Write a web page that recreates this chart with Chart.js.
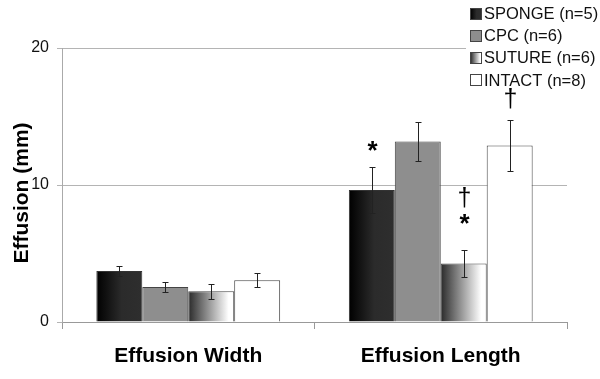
<!DOCTYPE html>
<html>
<head>
<meta charset="utf-8">
<script src="https://cdn.jsdelivr.net/npm/chart.js@4/dist/chart.umd.min.js"></script>
<style>
html,body{margin:0;padding:0;background:#fff;}
#wrap{width:600px;height:379px;position:relative;}
</style>
</head>
<body>
<div id="wrap"><canvas id="c" width="600" height="379"></canvas></div>
<script>
// ---- data ----
const categories = ["Effusion Width", "Effusion Length"];
const seriesNames = ["SPONGE (n=5)", "CPC (n=6)", "SUTURE (n=6)", "INTACT (n=8)"];
const spongeMean = [3.73, 9.63];
const spongeErr  = [0.34, 1.65];
const cpcMean    = [2.56, 13.17];
const cpcErr     = [0.34, 1.42];
const sutureMean = [2.24, 4.27];
const sutureErr  = [0.55, 0.96];
const intactMean = [3.05, 12.88];
const intactErr  = [0.50, 1.83];
const spongeMarks = [[], ["*"]];
const cpcMarks    = [[], []];
const sutureMarks = [[], ["*", "†"]];
const intactMarks = [[], ["†"]];
const yTicks = [0, 10, 20];

const FONT = "'Liberation Sans', Arial, sans-serif";

// styling
const fills = [
  {type: "grad", stops: [[0, "#000"], [0.55, "#2b2b2b"], [1, "#2e2e2e"]], border: "#333"},
  {type: "flat", color: "#8e8e8e", border: "#444"},
  {type: "grad", stops: [[0, "#2a2a2a"], [0.88, "#ffffff"], [1, "#ffffff"]], border: "#444"},
  {type: "flat", color: "#ffffff", border: "#444"}
];
// gap (px) between error-bar top and the first mark, per "dataset-index"
const markGap = {"0-1": 18, "2-1": 28, "3-1": 9};

function makeFill(ctx, f, x0, x1) {
  if (f.type === "flat") return f.color;
  const g = ctx.createLinearGradient(x0, 0, x1, 0);
  f.stops.forEach(s => g.addColorStop(s[0], s[1]));
  return g;
}

const means = [spongeMean, cpcMean, sutureMean, intactMean];
const errs = [spongeErr, cpcErr, sutureErr, intactErr];
const marks = [spongeMarks, cpcMarks, sutureMarks, intactMarks];

const datasets = means.map((m, i) => ({
  label: seriesNames[i],
  data: m,
  errors: errs[i],
  marks: marks[i],
  backgroundColor: () => fills[i].type === "flat" ? fills[i].color : "#555",
  borderColor: fills[i].border,
  borderWidth: 1,
  borderSkipped: "bottom",
  categoryPercentage: 0.728,
  barPercentage: 1.0
}));

const gradientPlugin = {
  id: "gradFill",
  beforeDatasetsDraw(chart) {
    const ctx = chart.ctx;
    chart.data.datasets.forEach((ds, di) => {
      const meta = chart.getDatasetMeta(di);
      meta.data.forEach(el => {
        const x0 = el.x - el.width / 2, x1 = el.x + el.width / 2;
        el.options = Object.assign({}, el.options, {backgroundColor: makeFill(ctx, fills[di], x0, x1)});
      });
    });
  }
};

const errorPlugin = {
  id: "errBars",
  afterDatasetsDraw(chart) {
    const ctx = chart.ctx;
    const y = chart.scales.y;
    ctx.save();
    ctx.strokeStyle = "#222";
    ctx.lineWidth = 1;
    chart.data.datasets.forEach((ds, di) => {
      const meta = chart.getDatasetMeta(di);
      meta.data.forEach((el, i) => {
        const v = ds.data[i], e = ds.errors[i];
        const x = Math.round(el.x) + 0.5;
        const yt = Math.round(y.getPixelForValue(v + e)) + 0.5;
        const yb = Math.round(y.getPixelForValue(v - e)) + 0.5;
        ctx.beginPath();
        ctx.moveTo(x, yt); ctx.lineTo(x, yb);
        ctx.moveTo(x - 3, yt); ctx.lineTo(x + 3, yt);
        ctx.moveTo(x - 3, yb); ctx.lineTo(x + 3, yb);
        ctx.stroke();
      });
    });
    ctx.restore();
  }
};

const marksPlugin = {
  id: "sigMarks",
  afterDraw(chart) {
    const ctx = chart.ctx;
    const y = chart.scales.y;
    ctx.save();
    chart.data.datasets.forEach((ds, di) => {
      const meta = chart.getDatasetMeta(di);
      meta.data.forEach((el, i) => {
        const list = ds.marks[i] || [];
        if (!list.length) return;
        const x = Math.round(el.x) + 0.5;
        const yt = Math.round(y.getPixelForValue(ds.data[i] + ds.errors[i])) + 0.5;
        let bottom = yt - (markGap[di + "-" + i] || 18);
        list.forEach(s => {
          ctx.fillStyle = "#000";
          ctx.textAlign = "center";
          ctx.textBaseline = "alphabetic";
          if (s === "*") {
            ctx.font = "bold 26px " + FONT;
            ctx.fillText(s, x, bottom + 9);
            bottom -= 12;
          } else {
            ctx.font = "25px " + FONT;
            ctx.fillText(s, x, bottom - 5);
            bottom -= 22;
          }
        });
      });
    });
    ctx.restore();
  }
};

const legendPlugin = {
  id: "customLegend",
  afterDraw(chart) {
    const ctx = chart.ctx;
    ctx.save();
    ctx.fillStyle = "#fff";
    ctx.fillRect(466, 0, 134, 70);
    chart.data.datasets.forEach((ds, di) => {
      const cy = 13.5 + di * 22.2;
      const bx = 470.5, by = Math.round(cy - 6) + 0.5, bs = 11;
      ctx.fillStyle = makeFill(ctx, fills[di], bx, bx + bs);
      ctx.fillRect(bx, by, bs, bs);
      ctx.strokeStyle = "#444";
      ctx.lineWidth = 1;
      ctx.strokeRect(bx, by, bs, bs);
      ctx.fillStyle = "#111";
      ctx.font = "16.5px " + FONT;
      ctx.textAlign = "left";
      ctx.textBaseline = "middle";
      ctx.fillText(ds.label, 484, cy + 1);
    });
    ctx.restore();
  }
};

const yTitlePlugin = {
  id: "yTitle",
  afterDraw(chart) {
    const ctx = chart.ctx;
    ctx.save();
    ctx.translate(22, 193);
    ctx.rotate(-Math.PI / 2);
    ctx.fillStyle = "#000";
    ctx.font = "bold 21px " + FONT;
    ctx.textAlign = "center";
    ctx.textBaseline = "middle";
    ctx.fillText("Effusion (mm)", 0, 0);
    ctx.restore();
  }
};

new Chart(document.getElementById("c"), {
  type: "bar",
  data: {labels: categories, datasets},
  options: {
    responsive: false,
    animation: false,
    devicePixelRatio: 1,
    layout: {padding: {left: 0, right: 33, top: 48, bottom: 0}},
    plugins: {legend: {display: false}, tooltip: {enabled: false}},
    scales: {
      x: {
        grid: {display: true, drawOnChartArea: false, drawTicks: true, tickLength: 7, color: "#999", offset: true},
        border: {display: true, color: "#999", width: 1},
        ticks: {color: "#000", font: {family: FONT, size: 21, weight: "bold"}, padding: 15, maxRotation: 0},
        afterFit(s) { s.height = 57; }
      },
      y: {
        min: 0, max: 20,
        afterBuildTicks(s) { s.ticks = yTicks.map(v => ({value: v})); },
        grid: {color: "#b4b4b4", drawTicks: true, tickLength: 5, lineWidth: 1},
        border: {display: true, color: "#aaa", width: 1},
        ticks: {color: "#111", font: {family: FONT, size: 16}, padding: 8},
        afterFit(s) { s.width = 62; }
      }
    }
  },
  plugins: [gradientPlugin, errorPlugin, legendPlugin, marksPlugin, yTitlePlugin]
});
</script>
</body>
</html>
